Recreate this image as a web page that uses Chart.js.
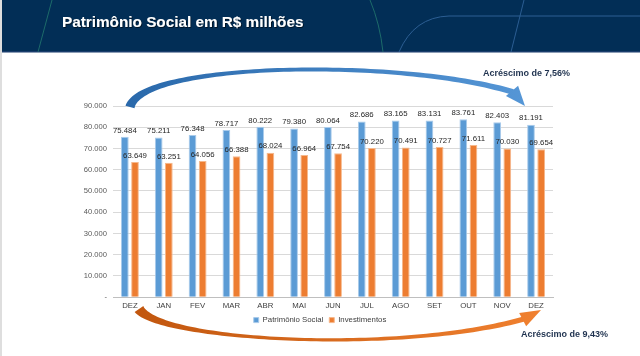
<!DOCTYPE html>
<html><head><meta charset="utf-8">
<script src="https://cdn.jsdelivr.net/npm/chart.js@4.4.1/dist/chart.umd.min.js"></script>
<style>
html,body{margin:0;padding:0;background:#fff;width:640px;height:356px;overflow:hidden;}
#wrap{position:relative;width:640px;height:356px;}
#hdr{position:absolute;left:0;top:0;}
#edge{position:absolute;left:0;top:0;width:2px;height:356px;background:#dedede;}
canvas{position:absolute;left:0;top:0;}
</style></head><body>
<div id="wrap">
<svg id="hdr" width="640" height="53" xmlns="http://www.w3.org/2000/svg">
  <defs><filter id="sh" x="-5%" y="-20%" width="110%" height="150%"><feDropShadow dx="0.8" dy="0.8" stdDeviation="0.5" flood-color="#000" flood-opacity="0.7"/></filter></defs>
  <rect x="0" y="0" width="640" height="52" fill="#022e56"/>
  <rect x="0" y="51" width="640" height="1.5" fill="#1a3d6c"/>
  <path d="M52 0 Q45 26 38 52" stroke="#1d6b6a" stroke-width="1" fill="none"/>
  <path d="M370 0 Q380 24 383 52" stroke="#1d6b6a" stroke-width="1" fill="none"/>
  <path d="M399 52 Q414 17 449 16 L640 16" stroke="#2c5e93" stroke-width="1" fill="none"/>
  <path d="M524 0 L511 52" stroke="#2c5e93" stroke-width="1" fill="none"/>
  <text x="62" y="27" font-family="'Liberation Sans', Arial, sans-serif" font-weight="bold" font-size="15.3" fill="#ffffff" filter="url(#sh)">Patrimônio Social em R$ milhões</text>
</svg>
<div id="edge"></div>
<canvas id="c" width="640" height="356"></canvas>
</div>
<script>
const months = ['DEZ','JAN','FEV','MAR','ABR','MAI','JUN','JUL','AGO','SET','OUT','NOV','DEZ'];
const patrimonioSocial = [75484, 75211, 76348, 78717, 80222, 79380, 80064, 82686, 83165, 83131, 83761, 82403, 81191];
const investimentos = [63649, 63251, 64056, 66388, 68024, 66964, 67754, 70220, 70491, 70727, 71611, 70030, 69654];
const seriesNames = ['Patrimônio Social', 'Investimentos'];
const yMax = 90000, yStep = 10000;
const noteTop = 'Acréscimo de 7,56%';
const noteBottom = 'Acréscimo de 9,43%';

const FONT = "'Liberation Sans', Arial, sans-serif";
function fmt(v){ return v === 0 ? '-' : String(v).replace(/\B(?=(\d{3})+(?!\d))/g, '.'); }

const valueLabels = {
  id: 'valueLabels',
  afterDatasetsDraw(chart){
    const ctx = chart.ctx; ctx.save();
    ctx.font = '7.8px ' + FONT; ctx.fillStyle = '#262626';
    ctx.textAlign = 'center'; ctx.textBaseline = 'bottom';
    chart.data.datasets.forEach((ds, i) => {
      chart.getDatasetMeta(i).data.forEach((bar, j) => {
        ctx.fillText(fmt(ds.data[j]), bar.x, bar.y - 2.5);
      });
    });
    ctx.restore();
  }
};

function bez(P, t){
  const u = 1 - t;
  return {
    x: u*u*u*P[0][0] + 3*u*u*t*P[1][0] + 3*u*t*t*P[2][0] + t*t*t*P[3][0],
    y: u*u*u*P[0][1] + 3*u*u*t*P[1][1] + 3*u*t*t*P[2][1] + t*t*t*P[3][1]
  };
}
function drawArrow(ctx, P, wf, tip, headW, c0, c1){
  const N = 80, L = [], R = [];
  for (let i = 0; i <= N; i++){
    const t = i / N;
    const a = bez(P, Math.max(0, t - 0.005)), b = bez(P, Math.min(1, t + 0.005));
    let dx = b.x - a.x, dy = b.y - a.y; const d = Math.hypot(dx, dy) || 1; dx /= d; dy /= d;
    const p = bez(P, t), w = wf(t) / 2;
    L.push([p.x - dy*w, p.y + dx*w]); R.push([p.x + dy*w, p.y - dx*w]);
  }
  const g = ctx.createLinearGradient(P[0][0], P[0][1], tip[0], tip[1]);
  g.addColorStop(0, c0); g.addColorStop(1, c1);
  ctx.fillStyle = g;
  ctx.beginPath();
  ctx.moveTo(L[0][0], L[0][1]);
  L.forEach(p => ctx.lineTo(p[0], p[1]));
  for (let i = R.length - 1; i >= 0; i--) ctx.lineTo(R[i][0], R[i][1]);
  ctx.closePath(); ctx.fill();
  const e = P[3];
  let dx = tip[0] - e[0], dy = tip[1] - e[1]; const d = Math.hypot(dx, dy); dx /= d; dy /= d;
  const bx = e[0] - dx*1.5, by = e[1] - dy*1.5;
  ctx.beginPath();
  ctx.moveTo(bx - dy*headW/2, by + dx*headW/2);
  ctx.lineTo(tip[0], tip[1]);
  ctx.lineTo(bx + dy*headW/2, by - dx*headW/2);
  ctx.closePath(); ctx.fill();
}

const annotations = {
  id: 'annotations',
  afterDraw(chart){
    const ctx = chart.ctx; ctx.save();
    drawArrow(ctx, [[130,107],[142,62],[400,58],[513,92]],
      t => 3.4 + 6*Math.pow(1-t,5) + 2.5*Math.pow(t,3), [525,106], 16, '#2a69ab', '#5596d6');
    drawArrow(ctx, [[139,309],[160,341],[400,354],[524,319]],
      t => 2.6 + 8*Math.pow(1-t,5) + 2.8*Math.pow(t,3), [541,310], 15, '#c2570f', '#f0802f');
    ctx.font = 'bold 9px ' + FONT; ctx.fillStyle = '#1f324f';
    ctx.textAlign = 'left'; ctx.textBaseline = 'middle';
    ctx.fillText(noteTop, 483, 74);
    ctx.fillText(noteBottom, 521, 335);
    ctx.restore();
  }
};

new Chart(document.getElementById('c'), {
  type: 'bar',
  data: {
    labels: months,
    datasets: [
      { label: seriesNames[0], data: patrimonioSocial, backgroundColor: '#5b9bd5', borderColor: '#a9cbeb', borderWidth: 1, yAxisID: 'y' },
      { label: seriesNames[1], data: investimentos, backgroundColor: '#ed7d31', borderColor: '#f6b88c', borderWidth: 1, yAxisID: 'y' }
    ]
  },
  options: {
    responsive: false, animation: false, devicePixelRatio: 1,
    layout: { padding: { left: 0, right: 0, top: 106, bottom: 22 } },
    datasets: { bar: { categoryPercentage: 0.6, barPercentage: 0.76 } },
    plugins: {
      legend: {
        position: 'bottom',
        labels: { boxWidth: 5, boxHeight: 5, padding: 6, color: '#404040', font: { family: FONT, size: 7.8 } }
      },
      tooltip: { enabled: false }
    },
    scales: {
      x: {
        type: 'category',
        grid: { display: false, drawTicks: false, tickLength: 0 },
        border: { display: true, color: '#bfbfbf' },
        ticks: { display: true, autoSkip: false, maxRotation: 0, color: '#404040', padding: 4, font: { family: FONT, size: 7.8 } },
        afterFit(s){ s.height = 13; }
      },
      y: {
        min: 0, max: yMax,
        grid: { color: '#d9d9d9', drawTicks: false },
        border: { display: false },
        ticks: { stepSize: yStep, padding: 6, color: '#595959', font: { family: FONT, size: 7.6 }, callback: v => fmt(v) },
        afterFit(s){ s.width = 113; }
      },
      y2: {
        position: 'right', display: true, min: 0, max: yMax,
        grid: { display: false }, border: { display: false },
        ticks: { display: false },
        afterFit(s){ s.width = 87; }
      }
    }
  },
  plugins: [valueLabels, annotations]
});
</script>
</body></html>
